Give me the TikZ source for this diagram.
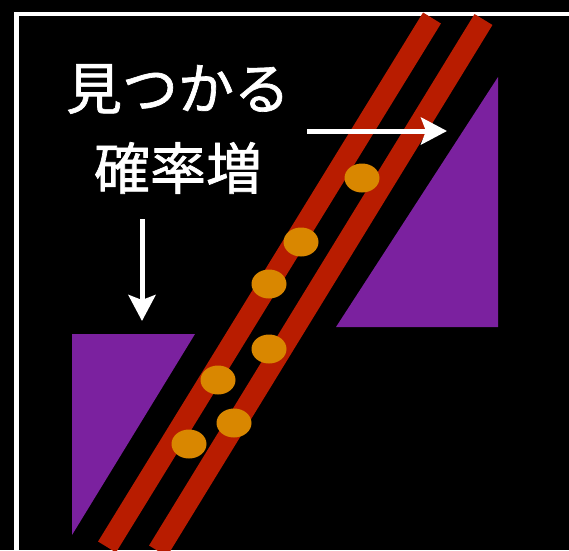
\documentclass[tikz,border=0pt]{standalone}
\usepackage{fontspec}
\newfontfamily\jpfont{Noto Sans CJK JP}[FakeBold=1.2]
\usetikzlibrary{arrows.meta}
\definecolor{bandred}{RGB}{184,28,0}
\definecolor{tripurple}{RGB}{123,33,159}
\definecolor{dotorange}{RGB}{217,135,0}
\tikzset{
  band/.style={draw=bandred, line width=21pt, line cap=butt},
  tri/.style={fill=tripurple, draw=none},
  dot/.style={ellipse, fill=dotorange, draw=none, minimum width=35pt, minimum height=29pt, inner sep=0pt},
  pointer/.style={draw=white, line width=5pt, -{Stealth[length=26pt, width=27pt, inset=5pt]}},
  label/.style={text=white, font=\jpfont\fontsize{56pt}{60pt}\selectfont, inner sep=0pt}
}
\usetikzlibrary{shapes.geometric}
\begin{document}
\begin{tikzpicture}[x=1pt, y=-1pt]
\useasboundingbox (0,0) rectangle (569,550);
\fill[black] (0,0) rectangle (569,550);
\begin{scope}
\clip (0,0) rectangle (569,550);
\draw[white, line width=4.5pt] (16.5,14) rectangle (620,620);
% triangles
\path[tri] (72,334) -- (195,334) -- (72,535) -- cycle;
\path[tri] (498,77) -- (498,327) -- (336,327) -- cycle;
% bands
\coordinate (b1t) at (432,18);
\coordinate (b1b) at (107,547);
\coordinate (b2t) at (483.5,19.5);
\coordinate (b2b) at (158,551);
\draw[band] (b1t) -- (b1b);
\draw[band] (b2t) -- (b2b);
\end{scope}
% dots
\node[dot] (d1) at (362,178) {};
\node[dot] (d2) at (301,242) {};
\node[dot] (d3) at (269,284) {};
\node[dot] (d4) at (269,349) {};
\node[dot] (d5) at (218,380) {};
\node[dot] (d6) at (234,423) {};
\node[dot] (d7) at (189,444) {};
% labels
\node[label] (l1) at (178,89) {見つかる};
\node[label] (l2) at (178,168) {確率増};
% arrows
\coordinate (a1s) at (307,131);
\coordinate (a1e) at (447,131);
\coordinate (a2s) at (142,219);
\coordinate (a2e) at (142,321);
\draw[pointer] (a1s) -- (a1e);
\draw[pointer] (a2s) -- (a2e);
\end{tikzpicture}
\end{document}
